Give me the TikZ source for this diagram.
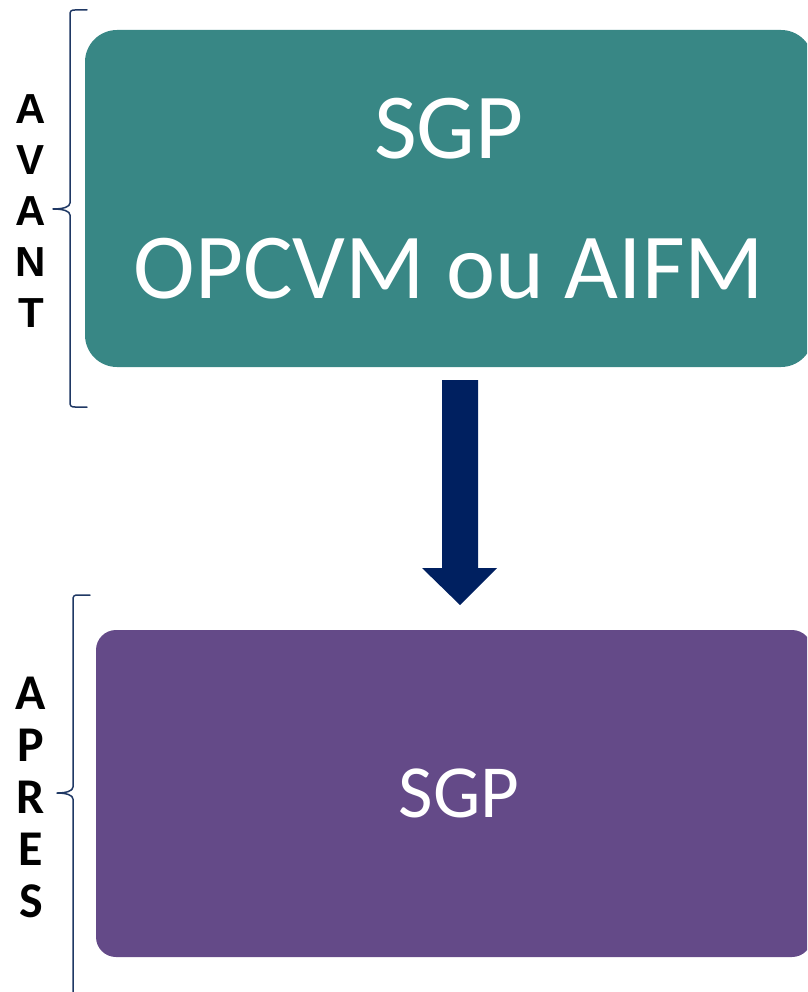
\documentclass[tikz,border=0pt]{standalone}
\usepackage{fontspec}
\setmainfont{Carlito}
\newfontfamily\arialfont{Liberation Sans}
\usetikzlibrary{positioning}

\definecolor{sgpteal}{RGB}{56,135,133}
\definecolor{sgppurple}{RGB}{100,74,136}
\definecolor{sgpnavy}{RGB}{0,32,96}
\definecolor{bracecol}{RGB}{31,56,100}

\tikzset{
  etatbox/.style={rectangle, rounded corners=#1, text=white, align=center, inner sep=0pt},
  sidelabel/.style={align=center, inner sep=0pt},
  bracepath/.style={draw=bracecol, line width=1.5pt, line cap=round, line join=round},
}

\begin{document}
\begin{tikzpicture}[x=1pt,y=-1pt]
    \useasboundingbox (0,0) rectangle (807,992);
    \clip (0,0) rectangle (807,992);

    % boxes (right edge runs past the page)
    \node[etatbox=32pt, fill=sgpteal, minimum width=728pt, minimum height=337pt,
          font=\fontsize{93}{140}\selectfont] (avant) at (449,198.5)
      {SGP\\OPCVM ou AIFM};
    \node[etatbox=20pt, fill=sgppurple, minimum width=716pt, minimum height=327pt,
          font=\fontsize{75}{90}\selectfont] (apres) at (454,793.5) {\hspace*{10pt}SGP};

    % block arrow between the two states
    \fill[sgpnavy] (442,380) -- (478,380) -- (478,568) -- (497,568) -- (460,605)
      -- (422,568) -- (442,568) -- cycle;

    % side labels
    \node[sidelabel, font=\arialfont\bfseries\fontsize{42}{51}\selectfont] (lavant) at (31,211) {A\\V\\A\\N\\T};
    \node[sidelabel, font=\bfseries\fontsize{50}{52}\selectfont] (lapres) at (31,797) {A\\P\\R\\E\\S};

    % braces
    \draw[bracepath] (87,10) -- (75,10) .. controls (71,10) and (70,11) .. (70,15)
      -- (70,203) .. controls (70,207) and (63,209) .. (53,209)
      .. controls (63,209) and (70,211) .. (70,215)
      -- (70,402) .. controls (70,406) and (71,407) .. (75,407) -- (87,407);
    \draw[bracepath] (90,595) -- (78,595) .. controls (74,595) and (73,596) .. (73,600)
      -- (73,787) .. controls (73,791) and (66,793) .. (57,793)
      .. controls (66,793) and (73,795) .. (73,799)
      -- (73,1000);
\end{tikzpicture}
\end{document}
